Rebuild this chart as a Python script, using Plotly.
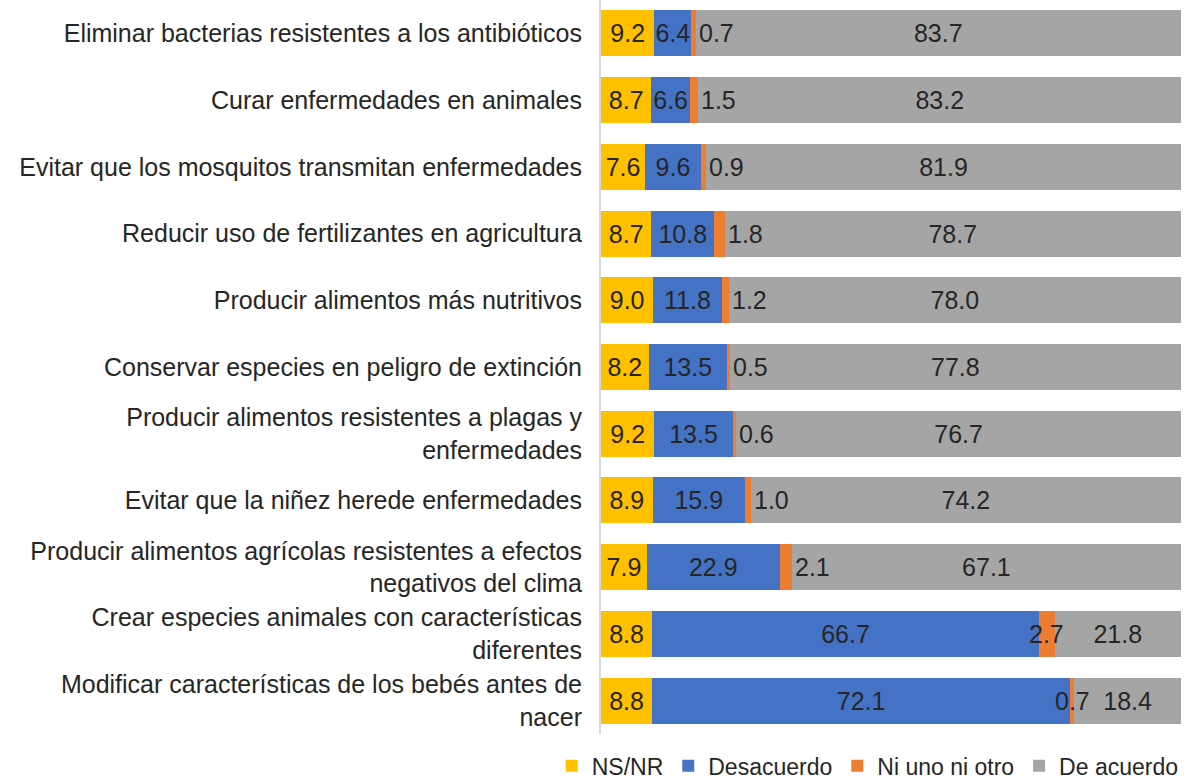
import plotly.graph_objects as go

categories = [
    "Eliminar bacterias resistentes a los antibióticos",
    "Curar enfermedades en animales",
    "Evitar que los mosquitos transmitan enfermedades",
    "Reducir uso de fertilizantes en agricultura",
    "Producir alimentos más nutritivos",
    "Conservar especies en peligro de extinción",
    "Producir alimentos resistentes a plagas y<br>enfermedades",
    "Evitar que la niñez herede enfermedades",
    "Producir alimentos agrícolas resistentes a efectos<br>negativos del clima",
    "Crear especies animales con características<br>diferentes",
    "Modificar características de los bebés antes de<br>nacer",
]
ns_nr = [9.2, 8.7, 7.6, 8.7, 9.0, 8.2, 9.2, 8.9, 7.9, 8.8, 8.8]
desacuerdo = [6.4, 6.6, 9.6, 10.8, 11.8, 13.5, 13.5, 15.9, 22.9, 66.7, 72.1]
ni_uno = [0.7, 1.5, 0.9, 1.8, 1.2, 0.5, 0.6, 1.0, 2.1, 2.7, 0.7]
de_acuerdo = [83.7, 83.2, 81.9, 78.7, 78.0, 77.8, 76.7, 74.2, 67.1, 21.8, 18.4]

series_names = ["NS/NR", "Desacuerdo", "Ni uno ni otro", "De acuerdo"]
colors = ["#FFC000", "#4472C4", "#ED7D31", "#A5A5A5"]
orange_label_anchor = ["left"] * 9 + ["center"] * 2

FONT = "Liberation Sans, Arial, sans-serif"
TXT = "#262626"
FS = 25

fig = go.Figure()
for name, vals, col in zip(series_names, [ns_nr, desacuerdo, ni_uno, de_acuerdo], colors):
    show_text = name != "Ni uno ni otro"
    fig.add_trace(go.Bar(
        y=categories, x=vals, name=name, orientation="h",
        marker=dict(color=col, line=dict(width=0)),
        text=[f"{v:.1f}" for v in vals] if show_text else None,
        textposition="inside" if show_text else "none",
        insidetextanchor="middle",
        textangle=0,
        constraintext="none",
        textfont=dict(family=FONT, size=FS, color=TXT),
        insidetextfont=dict(family=FONT, size=FS, color=TXT),
        hoverinfo="x+name",
    ))

# labels for the thin "Ni uno ni otro" segments
for cat, a, b, c, anc in zip(categories, ns_nr, desacuerdo, ni_uno, orange_label_anchor):
    if anc == "left":
        xpos, xs = a + b + c, 1
    else:
        xpos, xs = a + b + c / 2, 0
    fig.add_annotation(x=xpos, y=cat, text=f"{c:.1f}", showarrow=False,
                       xanchor=anc, xshift=xs,
                       font=dict(family=FONT, size=FS, color=TXT))

fig.update_layout(
    barmode="stack",
    bargap=0.31,
    width=1189, height=782,
    margin=dict(l=601, r=8, t=0, b=48, autoexpand=False),
    paper_bgcolor="white", plot_bgcolor="white",
    font=dict(family=FONT, size=FS, color=TXT),
    showlegend=True,
    legend=dict(orientation="h", traceorder="normal",
                x=-0.085, xanchor="left", y=-0.014, yanchor="top",
                font=dict(family=FONT, size=23, color=TXT),
                itemwidth=30, tracegroupgap=0,
                bgcolor="rgba(0,0,0,0)"),
    xaxis=dict(range=[0, 100], visible=False, fixedrange=True),
    yaxis=dict(autorange="reversed", showline=True, linecolor="#D9D9D9", linewidth=2,
               ticks="", automargin=False, ticklabelstandoff=12,
               tickfont=dict(family=FONT, size=FS, color=TXT), showgrid=False),
)

fig.write_html("out.html", config={"displayModeBar": False},
               post_script="document.body.style.margin='0px';")
